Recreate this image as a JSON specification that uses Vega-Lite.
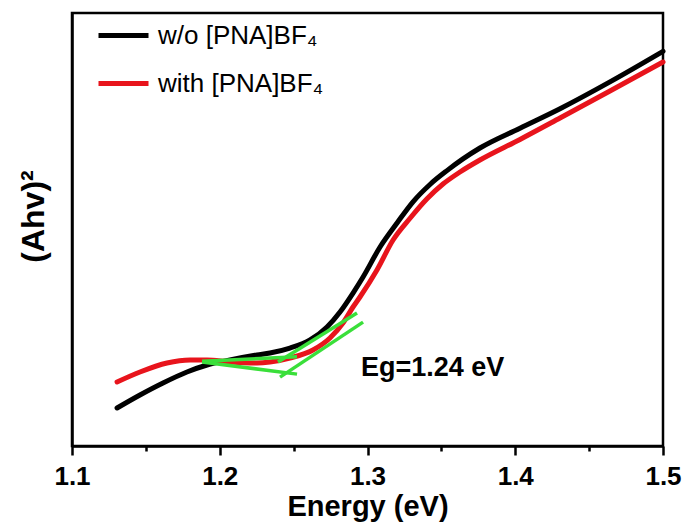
{
  "$schema": "https://vega.github.io/schema/vega-lite/v6.json",
  "width": 591,
  "height": 433,
  "autosize": {"type": "none"},
  "padding": {"left": 72, "top": 13, "right": 24, "bottom": 80},
  "background": "white",
  "config": {
    "view": {"stroke": "black", "strokeWidth": 2.5},
    "font": "Liberation Sans"
  },
  "datasets": {
    "curves": [
      {"E": 1.1305, "A": 8.78, "sample": "w/o [PNA]BF₄"},
      {"E": 1.1460, "A": 11.78, "sample": "w/o [PNA]BF₄"},
      {"E": 1.1616, "A": 14.55, "sample": "w/o [PNA]BF₄"},
      {"E": 1.1778, "A": 17.09, "sample": "w/o [PNA]BF₄"},
      {"E": 1.1914, "A": 18.71, "sample": "w/o [PNA]BF₄"},
      {"E": 1.2069, "A": 19.86, "sample": "w/o [PNA]BF₄"},
      {"E": 1.2252, "A": 21.02, "sample": "w/o [PNA]BF₄"},
      {"E": 1.2340, "A": 21.48, "sample": "w/o [PNA]BF₄"},
      {"E": 1.2475, "A": 22.63, "sample": "w/o [PNA]BF₄"},
      {"E": 1.2611, "A": 24.48, "sample": "w/o [PNA]BF₄"},
      {"E": 1.2726, "A": 27.48, "sample": "w/o [PNA]BF₄"},
      {"E": 1.2814, "A": 30.95, "sample": "w/o [PNA]BF₄"},
      {"E": 1.2902, "A": 35.33, "sample": "w/o [PNA]BF₄"},
      {"E": 1.2970, "A": 39.03, "sample": "w/o [PNA]BF₄"},
      {"E": 1.3085, "A": 45.96, "sample": "w/o [PNA]BF₄"},
      {"E": 1.3200, "A": 51.50, "sample": "w/o [PNA]BF₄"},
      {"E": 1.3308, "A": 56.40, "sample": "w/o [PNA]BF₄"},
      {"E": 1.3423, "A": 60.40, "sample": "w/o [PNA]BF₄"},
      {"E": 1.3538, "A": 63.60, "sample": "w/o [PNA]BF₄"},
      {"E": 1.3646, "A": 66.30, "sample": "w/o [PNA]BF₄"},
      {"E": 1.3761, "A": 68.82, "sample": "w/o [PNA]BF₄"},
      {"E": 1.4032, "A": 73.40, "sample": "w/o [PNA]BF₄"},
      {"E": 1.4303, "A": 77.90, "sample": "w/o [PNA]BF₄"},
      {"E": 1.4641, "A": 84.10, "sample": "w/o [PNA]BF₄"},
      {"E": 1.5000, "A": 91.15, "sample": "w/o [PNA]BF₄"},
      {"E": 1.1305, "A": 14.78, "sample": "with [PNA]BF₄"},
      {"E": 1.1460, "A": 17.09, "sample": "with [PNA]BF₄"},
      {"E": 1.1643, "A": 19.17, "sample": "with [PNA]BF₄"},
      {"E": 1.1799, "A": 19.86, "sample": "with [PNA]BF₄"},
      {"E": 1.1914, "A": 19.86, "sample": "with [PNA]BF₄"},
      {"E": 1.2069, "A": 19.40, "sample": "with [PNA]BF₄"},
      {"E": 1.2252, "A": 19.17, "sample": "with [PNA]BF₄"},
      {"E": 1.2340, "A": 19.40, "sample": "with [PNA]BF₄"},
      {"E": 1.2475, "A": 20.32, "sample": "with [PNA]BF₄"},
      {"E": 1.2631, "A": 22.17, "sample": "with [PNA]BF₄"},
      {"E": 1.2746, "A": 24.94, "sample": "with [PNA]BF₄"},
      {"E": 1.2834, "A": 28.41, "sample": "with [PNA]BF₄"},
      {"E": 1.2902, "A": 32.10, "sample": "with [PNA]BF₄"},
      {"E": 1.2949, "A": 34.41, "sample": "with [PNA]BF₄"},
      {"E": 1.3064, "A": 40.65, "sample": "with [PNA]BF₄"},
      {"E": 1.3173, "A": 47.58, "sample": "with [PNA]BF₄"},
      {"E": 1.3288, "A": 52.60, "sample": "with [PNA]BF₄"},
      {"E": 1.3403, "A": 57.10, "sample": "with [PNA]BF₄"},
      {"E": 1.3511, "A": 60.50, "sample": "with [PNA]BF₄"},
      {"E": 1.3626, "A": 63.28, "sample": "with [PNA]BF₄"},
      {"E": 1.3761, "A": 66.05, "sample": "with [PNA]BF₄"},
      {"E": 1.4032, "A": 70.80, "sample": "with [PNA]BF₄"},
      {"E": 1.4303, "A": 75.75, "sample": "with [PNA]BF₄"},
      {"E": 1.4641, "A": 81.99, "sample": "with [PNA]BF₄"},
      {"E": 1.5000, "A": 88.68, "sample": "with [PNA]BF₄"}
    ],
    "tangents": [
      {"E": 1.2394, "A": 19.4, "seg": "A"},
      {"E": 1.2929, "A": 30.7, "seg": "A"},
      {"E": 1.2408, "A": 15.9, "seg": "B"},
      {"E": 1.2970, "A": 28.6, "seg": "B"},
      {"E": 1.1880, "A": 19.6, "seg": "C"},
      {"E": 1.2523, "A": 20.6, "seg": "C"},
      {"E": 1.1880, "A": 19.4, "seg": "D"},
      {"E": 1.2523, "A": 16.6, "seg": "D"}
    ],
    "minor": [
      {"E": 1.15}, {"E": 1.25}, {"E": 1.35}, {"E": 1.45}
    ],
    "notes": [
      {"E": 1.2956, "A": 18.0, "label": "Eg=1.24 eV"}
    ]
  },
  "resolve": {"axis": {"x": "independent", "y": "independent"}},
  "layer": [
    {
      "data": {"name": "curves"},
      "mark": {"type": "line", "strokeWidth": 5, "interpolate": "monotone", "strokeCap": "round"},
      "encoding": {
        "x": {
          "field": "E", "type": "quantitative",
          "scale": {"domain": [1.1, 1.5], "nice": false, "zero": false},
          "axis": {
            "values": [1.1, 1.2, 1.3, 1.4, 1.5],
            "format": ".1f",
            "grid": false,
            "domainColor": "black", "domainWidth": 2.5,
            "tickColor": "black", "tickWidth": 2.5, "tickSize": 9,
            "labelFont": "Liberation Sans", "labelFontWeight": "bold", "labelFontSize": 26,
            "labelColor": "black", "labelPadding": 8, "labelFlush": false,
            "title": "Energy (eV)",
            "titleFont": "Liberation Sans", "titleFontWeight": "bold", "titleFontSize": 29,
            "titleColor": "black", "titlePadding": 3
          }
        },
        "y": {
          "field": "A", "type": "quantitative",
          "scale": {"domain": [0, 100], "nice": false},
          "axis": {
            "labels": false, "ticks": false, "grid": false,
            "domainColor": "black", "domainWidth": 2.5,
            "title": "(Ahv)²",
            "titleFont": "Liberation Sans", "titleFontWeight": "bold", "titleFontSize": 32,
            "titleColor": "black", "titlePadding": 22, "titleY": 203
          }
        },
        "color": {
          "field": "sample", "type": "nominal",
          "scale": {"domain": ["w/o [PNA]BF₄", "with [PNA]BF₄"], "range": ["#000000", "#e8141c"]},
          "legend": {
            "title": null,
            "orient": "none", "legendX": 24, "legendY": -5,
            "padding": 0,
            "symbolType": "stroke", "symbolSize": 2500, "symbolStrokeWidth": 5,
            "labelFont": "Liberation Sans", "labelFontSize": 26, "labelColor": "black",
            "labelLimit": 400,
            "labelOffset": 7, "rowPadding": 7
          }
        }
      }
    },
    {
      "data": {"name": "tangents"},
      "mark": {"type": "line", "strokeWidth": 3.5, "color": "#3adf3a"},
      "encoding": {
        "x": {"field": "E", "type": "quantitative", "axis": null},
        "y": {"field": "A", "type": "quantitative", "axis": null},
        "detail": {"field": "seg", "type": "nominal"}
      }
    },
    {
      "data": {"name": "minor"},
      "mark": {"type": "point", "opacity": 0},
      "encoding": {
        "x": {
          "field": "E", "type": "quantitative",
          "axis": {
            "orient": "bottom",
            "values": [1.15, 1.25, 1.35, 1.45],
            "labels": false, "domain": false, "grid": false,
            "tickColor": "black", "tickWidth": 2.5, "tickSize": 5,
            "title": null
          }
        }
      }
    },
    {
      "data": {"name": "notes"},
      "mark": {"type": "text", "font": "Liberation Sans", "fontWeight": "bold", "fontSize": 27, "align": "left", "baseline": "middle", "color": "black"},
      "encoding": {
        "x": {"field": "E", "type": "quantitative", "axis": null},
        "y": {"field": "A", "type": "quantitative", "axis": null},
        "text": {"field": "label", "type": "nominal"}
      }
    }
  ]
}
